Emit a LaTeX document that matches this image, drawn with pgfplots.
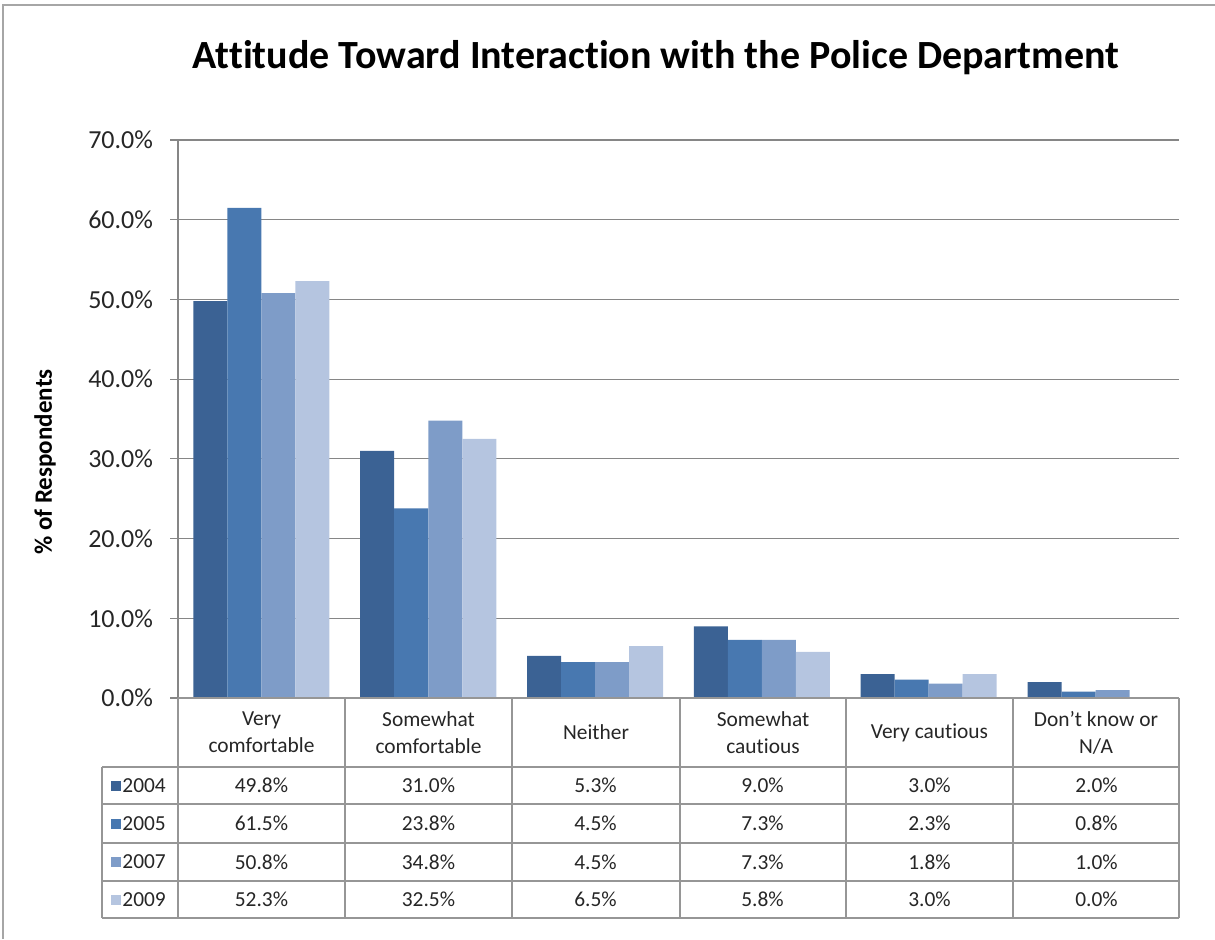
\documentclass[border=0pt]{standalone}
\usepackage{pgfplots}
\pgfplotsset{compat=1.18}
\usepackage{fontspec}
\setmainfont{Carlito}[Ligatures=NoCommon]
\definecolor{c04}{RGB}{59,98,148}
\definecolor{c05}{RGB}{72,120,176}
\definecolor{c07}{RGB}{126,156,200}
\definecolor{c09}{RGB}{181,197,224}
\definecolor{gridc}{RGB}{134,134,134}
\definecolor{tabc}{RGB}{150,150,150}
\begin{document}
\begin{tikzpicture}
\begin{axis}[at={(89pt,-349pt)}, anchor=south west, scale only axis,
  width=500.5pt, height=279pt,
  xmin=-0.5, xmax=5.5, ymin=0, ymax=70,
  ytick={0,10,...,70},
  ymajorgrids, grid style={draw=gridc, line width=0.6pt},
  axis x line=none, axis y line*=left,
  y axis line style={draw=gridc, line width=0.6pt, -},
  ytick style={draw=gridc, line width=0.6pt},
  tick align=outside, major tick length=4pt,
  /pgf/number format/assume math mode=true,
  yticklabel={\pgfmathprintnumber[fixed,fixed zerofill,precision=1]{\tick}\%},
  yticklabel style={font=\fontsize{13}{15}\selectfont, text=black!85, xshift=-5pt},
  ybar, bar width=17pt, clip=false]
\addplot[fill=c04, draw=none, bar shift=-25.5pt] coordinates {(0,49.8) (1,31.0) (2,5.3) (3,9.0) (4,3.0) (5,2.0)};
\addplot[fill=c05, draw=none, bar shift=-8.5pt] coordinates {(0,61.5) (1,23.8) (2,4.5) (3,7.3) (4,2.3) (5,0.8)};
\addplot[fill=c07, draw=none, bar shift=8.5pt] coordinates {(0,50.8) (1,34.8) (2,4.5) (3,7.3) (4,1.8) (5,1.0)};
\addplot[fill=c09, draw=none, bar shift=25.5pt] coordinates {(0,52.3) (1,32.5) (2,6.5) (3,5.8) (4,3.0) (5,0.0)};
\end{axis}
\begin{scope}[x=0.5pt, y=-0.5pt]
  % outer frame (left and top visible)
  \draw[black!35, line width=1pt] (3,939) -- (3,5) -- (1215,5);
  % title
  \node[font=\fontsize{20}{24}\selectfont\bfseries] at (656,58) {Attitude Toward Interaction with the Police Department};
  % y label
  \node[rotate=90, font=\fontsize{12.5}{15}\selectfont\bfseries] at (45,462) {\% of Respondents};
  % table lines
  \begin{scope}[draw=tabc, line width=0.75pt]
    \draw (178,698) -- (1179,698);
    \foreach \yy in {767,804,843,881,918} \draw (102,\yy) -- (1179,\yy);
    \foreach \xx in {178,345,512,680,846,1013,1179} \draw (\xx,698) -- (\xx,918);
    \draw (102,767) -- (102,918);
  \end{scope}
  % header labels
  \begin{scope}[every node/.style={font=\fontsize{10.7}{13.5}\selectfont, align=center, text=black!85}]
    \node at (261.5,732.5) {Very\\comfortable};
    \node at (428.5,732.5) {Somewhat\\comfortable};
    \node at (596,732.5) {Neither};
    \node at (763,732.5) {Somewhat\\cautious};
    \node at (929.5,732.5) {Very cautious};
    \node at (1096,732.5) {Don’t know or\\N/A};
    % values
    \foreach \v [count=\i from 0] in {49.8\%,31.0\%,5.3\%,9.0\%,3.0\%,2.0\%}
      \node at ({261.5+\i*167},785.5) {\v};
    \foreach \v [count=\i from 0] in {61.5\%,23.8\%,4.5\%,7.3\%,2.3\%,0.8\%}
      \node at ({261.5+\i*167},823.5) {\v};
    \foreach \v [count=\i from 0] in {50.8\%,34.8\%,4.5\%,7.3\%,1.8\%,1.0\%}
      \node at ({261.5+\i*167},862) {\v};
    \foreach \v [count=\i from 0] in {52.3\%,32.5\%,6.5\%,5.8\%,3.0\%,0.0\%}
      \node at ({261.5+\i*167},899.5) {\v};
  \end{scope}
  % legend keys
  \foreach \c/\lab/\yy in {c04/2004/785.5, c05/2005/823.5, c07/2007/862, c09/2009/899.5} {
    \fill[\c] (111,{\yy-5}) rectangle (121,{\yy+5});
    \node[anchor=west, inner sep=0pt, font=\fontsize{10.7}{12}\selectfont, text=black!85] at (122,\yy) {\lab};
  }
\end{scope}
\pgfresetboundingbox
\path[use as bounding box] (0,0) rectangle (607.5pt,-469.5pt);
\end{tikzpicture}
\end{document}
